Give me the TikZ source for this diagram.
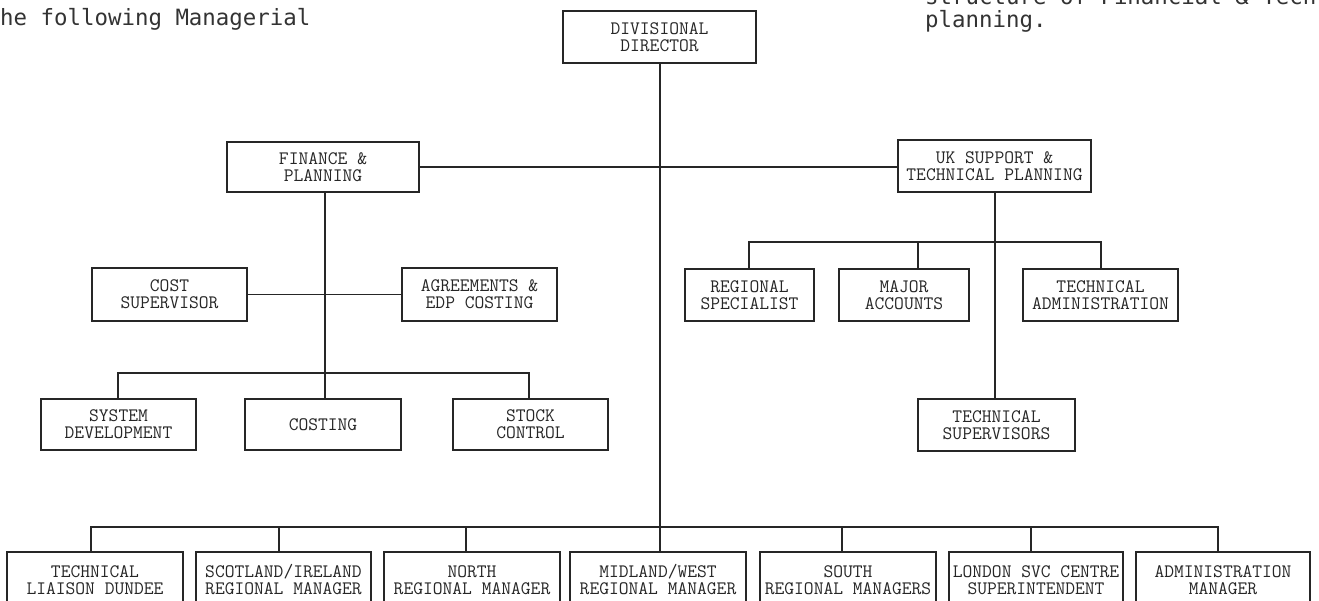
\documentclass[tikz,border=0pt]{standalone}
\usepackage{fontspec}
\newfontfamily\prosefont{DejaVu Sans Mono}
\definecolor{ink}{HTML}{262626}
\definecolor{prose}{HTML}{333333}
\begin{document}
\begin{tikzpicture}[x=1pt,y=-1pt,
  box/.style={draw=ink,line width=1.8pt,inner sep=0pt,align=center,
    font=\ttfamily\fontsize{19}{17}\selectfont\addfontfeatures{FakeBold=0.4},text=ink},
  link/.style={draw=ink,line width=1.4pt},
  txt/.style={anchor=base west,inner sep=0pt,text=prose,
    font=\prosefont\fontsize{22.4}{22.4}\selectfont}]
\useasboundingbox (0,0) rectangle (1319,600);
\clip (0,0) rectangle (1319,600);
\fill[white] (0,0) rectangle (1319,600);

% surrounding prose (cut by the page edge)
\node[txt] (p1) at (0,25) {he following Managerial};
\node[txt] (p2) at (925,4.5) {structure of Financial \& Tech};
\node[txt] (p3) at (925,27) {planning.};

% top
\node[box,minimum width=193pt,minimum height=52pt] (dir) at (659.5,37) {DIVISIONAL\\DIRECTOR};
\node[box,minimum width=192pt,minimum height=50pt] (fin) at (323,167) {FINANCE \&\\PLANNING};
\node[box,minimum width=193pt,minimum height=52pt] (uk) at (994.5,166) {UK SUPPORT \&\\TECHNICAL PLANNING};

% finance group
\node[box,minimum width=155pt,minimum height=53pt] (cost) at (169.5,294.5) {COST\\SUPERVISOR};
\node[box,minimum width=155pt,minimum height=53pt] (agr) at (479.5,294.5) {AGREEMENTS \&\\EDP COSTING};
\node[box,minimum width=155pt,minimum height=51pt] (sys) at (118.5,424.5) {SYSTEM\\DEVELOPMENT};
\node[box,minimum width=156pt,minimum height=51pt] (csting) at (323,424.5) {COSTING};
\node[box,minimum width=155pt,minimum height=51pt] (stock) at (530.5,424.5) {STOCK\\CONTROL};

% UK support group
\node[box,minimum width=129pt,minimum height=52pt] (reg) at (749.5,295) {REGIONAL\\SPECIALIST};
\node[box,minimum width=130pt,minimum height=52pt] (maj) at (904,295) {MAJOR\\ACCOUNTS};
\node[box,minimum width=155pt,minimum height=52pt] (tadm) at (1100.5,295) {TECHNICAL\\ADMINISTRATION};
\node[box,minimum width=157pt,minimum height=52pt] (tsup) at (996.5,425) {TECHNICAL\\SUPERVISORS};

% bottom row (runs off the page)
\node[box,minimum width=176pt,minimum height=56pt] (b1) at (95,580) {TECHNICAL\\LIAISON DUNDEE};
\node[box,minimum width=175pt,minimum height=56pt] (b2) at (283.5,580) {SCOTLAND/IRELAND\\REGIONAL MANAGER};
\node[box,minimum width=176pt,minimum height=56pt] (b3) at (472,580) {NORTH\\REGIONAL MANAGER};
\node[box,minimum width=176pt,minimum height=56pt] (b4) at (658,580) {MIDLAND/WEST\\REGIONAL MANAGER};
\node[box,minimum width=176pt,minimum height=56pt] (b5) at (848,580) {SOUTH\\REGIONAL MANAGERS};
\node[box,minimum width=174pt,minimum height=56pt] (b6) at (1036,580) {LONDON SVC CENTRE\\SUPERINTENDENT};
\node[box,minimum width=174pt,minimum height=56pt] (b7) at (1223,580) {ADMINISTRATION\\MANAGER};

% bus points
\coordinate (fbus) at (325,373);
\coordinate (fl) at (118,373);
\coordinate (fr) at (529,373);
\coordinate (ul) at (749,242);
\coordinate (um) at (918,242);
\coordinate (ur) at (1101,242);
\coordinate (bbus) at (660,527);
\coordinate (d1) at (91,527);
\coordinate (d2) at (279,527);
\coordinate (d3) at (466,527);
\coordinate (d5) at (842,527);
\coordinate (d6) at (1031,527);
\coordinate (d7) at (1218,527);

% main trunk
\draw[link] (dir.south -| bbus) -- (bbus) -- (bbus |- b4.north);
\draw[link] (fin.east) -- (fin.east -| uk.west);

% finance connectors
\draw[link] (fin.south -| fbus) -- (fbus |- csting.north);
\draw[link] (cost.east) -- (agr.west);
\draw[link] (sys.north -| fl) -- (fl) -- (fr) -- (stock.north -| fr);

% UK connectors
\draw[link] (uk.south -| 995,0) -- (tsup.north -| 995,0);
\draw[link] (reg.north -| ul) -- (ul) -- (ur) -- (tadm.north -| ur);
\draw[link] (um) -- (maj.north -| um);

% bottom bus
\draw[link] (b1.north -| d1) -- (d1) -- (d7) -- (b7.north -| d7);
\draw[link] (d2) -- (b2.north -| d2);
\draw[link] (d3) -- (b3.north -| d3);
\draw[link] (d5) -- (b5.north -| d5);
\draw[link] (d6) -- (b6.north -| d6);
\end{tikzpicture}
\end{document}
